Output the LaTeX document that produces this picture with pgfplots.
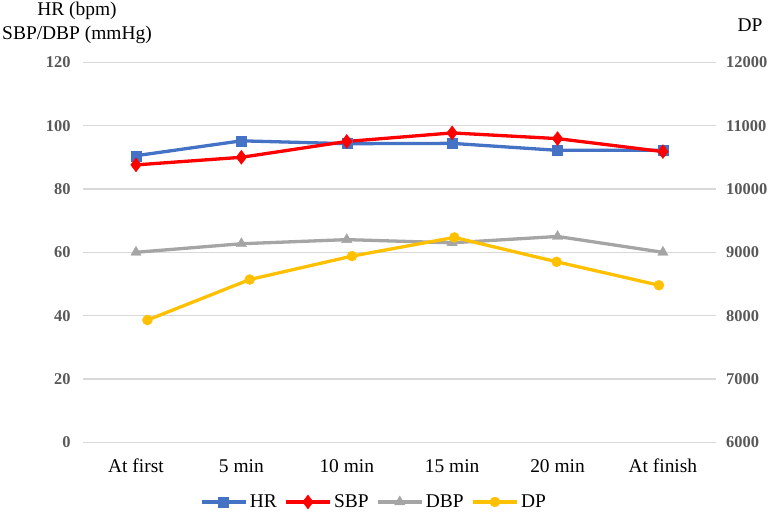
\documentclass[border=0pt]{standalone}
\usepackage{fontspec}
\setmainfont{Liberation Serif}
\usepackage{pgfplots}
\pgfplotsset{compat=1.18}
\definecolor{hrblue}{HTML}{4472C4}
\definecolor{sbpred}{HTML}{FF0000}
\definecolor{dbpgray}{HTML}{A5A5A5}
\definecolor{dpgold}{HTML}{FFC000}
\definecolor{gridgray}{HTML}{D9D9D9}
\definecolor{tickgray}{HTML}{595959}
\newcommand\lab{\rmfamily\fontsize{19.5}{24}\selectfont}
\newcommand\tck{\rmfamily\fontsize{16.5}{19}\selectfont\bfseries}
\pgfplotsset{
 common/.style={
  at={(83.3bp,71.7bp)}, anchor=south west,
  scale only axis, width=632.3bp, height=380bp,
  axis line style={draw=none}, major tick length=0pt,
  clip=false, scaled y ticks=false, scaled x ticks=false,
  /pgf/number format/assume math mode=true,
  /pgf/number format/1000 sep={},
 },
 ser/.style={line width=3.3bp, mark options={solid, line width=0.4bp}},
}
\begin{document}
\begin{tikzpicture}
\path[use as bounding box] (0,0) rectangle (770bp,514bp);
\begin{axis}[common,
  xmin=-0.5, xmax=5.5, ymin=0, ymax=120, ytick={0,20,...,120},
  xtick={0,...,5},
  xticklabels={At first, 5 min, 10 min, 15 min, 20 min, At finish},
  xticklabel style={font=\lab, anchor=base, yshift=-29.7bp, inner sep=0pt},
  yticklabel style={font=\tck, text=tickgray, anchor=east, inner sep=0pt, xshift=-12.6bp},
  ymajorgrids, grid style={gridgray, line width=1.3bp},
  legend columns=-1,
  legend style={draw=none, fill=none, at={(axis description cs:0.46,-0.157)}, anchor=center,
    nodes={inner sep=2.5bp, font=\lab},
    /tikz/every even column/.append style={column sep=5bp}},
  legend image code/.code={\draw[mark repeat=2, mark phase=2] plot coordinates {(0bp,0bp) (22bp,0bp) (44bp,0bp)};},
]
\addplot[ser, hrblue, mark=square*, mark size=5bp] coordinates {
 (0,90.5) (1,95.2) (2,94.3) (3,94.4) (4,92.2) (5,92.2)};
\addlegendentry{\lab HR}
\addplot[ser, sbpred, mark=diamond*, mark size=7bp] coordinates {
 (0,87.6) (1,90.0) (2,95.0) (3,97.7) (4,95.9) (5,91.8)};
\addlegendentry{\lab SBP}
\addplot[ser, dbpgray, mark=triangle*, mark size=6bp] coordinates {
 (0,60.0) (1,62.7) (2,64.0) (3,63.0) (4,65.0) (5,60.0)};
\addlegendentry{\lab DBP}
\addlegendimage{ser, dpgold, mark=*, mark size=5bp}
\addlegendentry{\lab DP}
\end{axis}
\begin{axis}[common,
  xmin=-0.627, xmax=5.554, ymin=6000, ymax=12000, ytick={6000,7000,...,12000},
  xtick=\empty, yticklabel pos=right,
  yticklabel style={font=\tck, text=tickgray, anchor=west, inner sep=0pt, xshift=10.4bp},
]
\addplot[ser, dpgold, mark=*, mark size=5bp] coordinates {
 (0,7930) (1,8570) (2,8940) (3,9235) (4,8850) (5,8480)};
\end{axis}
\node[font=\lab, align=center] at (77bp,491.5bp) {HR (bpm)\\SBP/DBP (mmHg)};
\node[font=\lab] at (750bp,489bp) {DP};
\end{tikzpicture}
\end{document}
